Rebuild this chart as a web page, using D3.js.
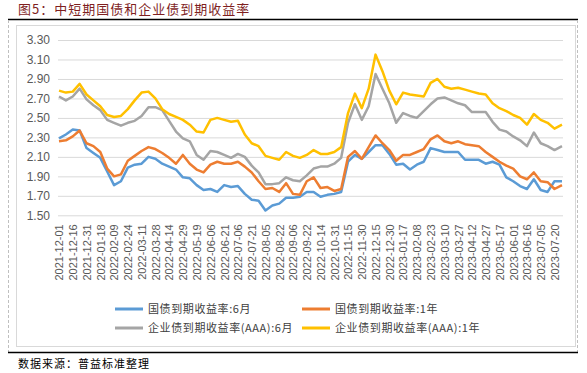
<!DOCTYPE html>
<html>
<head>
<meta charset="utf-8">
<script src="https://cdn.jsdelivr.net/npm/d3@7"></script>
<style>
  body { margin: 0; background: #fff; }
  text { font-family: "Liberation Sans", Arial, sans-serif; }
  .cjk { font-family: "Noto Sans CJK SC", sans-serif; }
</style>
</head>
<body>
<div id="chart-area"></div>
<script>
// tick labels on the category axis (one every 11 trading days)
var dateLabels = ["2021-12-01","2021-12-16","2021-12-31","2022-01-18","2022-02-09","2022-02-24",
    "2022-03-11","2022-03-28","2022-04-14","2022-04-29","2022-05-19","2022-06-06","2022-06-21",
    "2022-07-06","2022-07-21","2022-08-05","2022-08-22","2022-09-06","2022-09-22","2022-10-14",
    "2022-10-31","2022-11-15","2022-11-30","2022-12-15","2022-12-30","2023-01-17","2023-02-08",
    "2023-02-23","2023-03-10","2023-03-27","2023-04-12","2023-04-27","2023-05-17","2023-06-01",
    "2023-06-16","2023-07-05","2023-07-20"];
var labelStep = 11;     // trading days between labels
var lastDay = 402;      // last trading day index in the data
var yTicks = [1.5, 1.7, 1.9, 2.1, 2.3, 2.5, 2.7, 2.9, 3.1, 3.3];

// sampled every half label interval, last value is the final day
var gov6m = [2.29,2.33,2.38,2.37,2.19,2.14,2.09,1.95,1.81,1.85,1.99,2.02,2.03,2.10,2.08,2.03,2.00,1.97,
    1.89,1.88,1.81,1.76,1.77,1.74,1.81,1.79,1.80,1.72,1.66,1.65,1.55,1.60,1.62,1.68,1.68,1.69,
    1.74,1.74,1.69,1.71,1.72,1.74,2.05,2.12,2.08,2.15,2.22,2.22,2.13,2.02,2.03,1.97,2.02,2.05,
    2.19,2.17,2.15,2.15,2.15,2.07,2.07,2.07,2.03,2.05,2.02,1.89,1.85,1.80,1.77,1.87,1.76,1.74,1.85,1.85];
var gov1y = [2.26,2.27,2.31,2.37,2.24,2.21,2.15,1.98,1.90,1.92,2.06,2.11,2.16,2.20,2.18,2.14,2.09,2.03,
    2.12,2.03,1.97,1.94,2.02,2.05,2.03,2.03,2.05,2.00,1.94,1.85,1.77,1.78,1.74,1.83,1.72,1.71,
    1.85,1.89,1.78,1.79,1.75,1.77,2.10,2.16,2.08,2.20,2.32,2.24,2.17,2.06,2.12,2.12,2.15,2.18,
    2.28,2.32,2.26,2.24,2.26,2.23,2.22,2.21,2.15,2.10,2.05,2.01,1.98,1.90,1.87,1.94,1.85,1.84,1.77,1.81];
var corp6m = [2.72,2.68,2.72,2.80,2.69,2.63,2.58,2.48,2.45,2.42,2.45,2.47,2.52,2.61,2.61,2.58,2.47,2.36,
    2.29,2.26,2.12,2.07,2.16,2.15,2.12,2.09,2.13,2.10,2.01,1.94,1.82,1.82,1.83,1.89,1.86,1.85,
    1.91,1.98,2.00,2.00,2.03,2.09,2.45,2.64,2.48,2.62,2.95,2.80,2.65,2.45,2.55,2.52,2.50,2.57,
    2.64,2.70,2.71,2.68,2.65,2.63,2.56,2.56,2.56,2.46,2.38,2.36,2.31,2.27,2.21,2.35,2.24,2.21,2.17,2.21];
var corp1y = [2.78,2.76,2.77,2.85,2.74,2.68,2.62,2.53,2.51,2.52,2.59,2.68,2.76,2.77,2.70,2.59,2.54,2.51,
    2.48,2.43,2.36,2.35,2.48,2.50,2.48,2.46,2.47,2.33,2.24,2.21,2.11,2.09,2.07,2.15,2.11,2.09,
    2.12,2.17,2.13,2.13,2.15,2.20,2.55,2.75,2.60,2.80,3.15,2.98,2.78,2.64,2.76,2.74,2.73,2.72,
    2.86,2.90,2.82,2.80,2.81,2.79,2.77,2.75,2.74,2.65,2.60,2.57,2.53,2.50,2.43,2.54,2.48,2.45,2.39,2.43];

var seriesNames = ["国债到期收益率:6月", "国债到期收益率:1年", "企业债到期收益率(AAA):6月", "企业债到期收益率(AAA):1年"];
var seriesColors = ["#5b9bd5", "#ed7d31", "#a5a5a5", "#ffc000"];
var seriesValues = [gov6m, gov1y, corp6m, corp1y];

var width = 587, height = 373;
var svg = d3.select("#chart-area").append("svg")
    .attr("width", width)
    .attr("height", height);

// frame
svg.append("text").attr("class", "cjk")
    .attr("x", 18).attr("y", 14)
    .attr("font-size", "13px").attr("letter-spacing", "1px")
    .attr("fill", "#7f1f1f")
    .text("图5：中短期国债和企业债到期收益率");
svg.append("line").attr("x1", 8).attr("x2", 578).attr("y1", 19.5).attr("y2", 19.5)
    .attr("stroke", "#000").attr("stroke-width", 1.5);
[8.5, 577.5].forEach((x)=>{
    svg.append("line").attr("x1", x).attr("x2", x).attr("y1", 20).attr("y2", 352)
        .attr("stroke", "#bfbfbf").attr("stroke-dasharray", "3,2");
});
svg.append("rect").attr("x", 16.5).attr("y", 25.5).attr("width", 559).attr("height", 321)
    .attr("fill", "none").attr("stroke", "#d9d9d9");
svg.append("line").attr("x1", 8).attr("x2", 578).attr("y1", 352.5).attr("y2", 352.5)
    .attr("stroke", "#000").attr("stroke-width", 1.5);
svg.append("text").attr("class", "cjk")
    .attr("x", 18).attr("y", 368)
    .attr("font-size", "11px").attr("letter-spacing", "1px")
    .attr("fill", "#000")
    .text("数据来源：普益标准整理");

// scales
var x = d3.scaleLinear().domain([0, lastDay]).range([59, 562]);
var y = d3.scaleLinear().domain([1.5, 3.3]).range([215.3, 40]);
var plotLeft = 58, plotRight = 563;

// gridlines + y labels
var yAxis = d3.axisLeft(y).tickValues(yTicks).tickFormat(d3.format(".2f"))
    .tickSize(-(plotRight - plotLeft)).tickPadding(8);
var gy = svg.append("g").attr("transform", "translate(" + plotLeft + ",0)").call(yAxis);
gy.select(".domain").remove();
gy.selectAll("line").attr("stroke", "#d9d9d9");
gy.selectAll("text").attr("font-size", "12px").attr("fill", "#595959")
    .attr("font-family", "Liberation Sans, Arial, sans-serif");

// x labels
var xTicks = dateLabels.map((d, i)=>{ return i * labelStep; });
var xAxis = d3.axisBottom(x).tickValues(xTicks)
    .tickFormat((d)=>{ return dateLabels[d / labelStep]; }).tickSize(0);
var gx = svg.append("g").attr("transform", "translate(0,215.3)").call(xAxis);
gx.select(".domain").remove();
gx.selectAll("text")
    .attr("font-size", "11px").attr("fill", "#595959")
    .attr("font-family", "Liberation Sans, Arial, sans-serif")
    .attr("text-anchor", "end")
    .attr("transform", "rotate(-90)")
    .attr("x", -9).attr("y", 0).attr("dy", "0.35em");

// lines
var line = d3.line()
    .x((d, i, arr)=>{ return x(i === arr.length - 1 ? lastDay : i * labelStep / 2); })
    .y((d)=>{ return y(d); });
seriesValues.forEach((vals, s)=>{
    svg.append("path")
        .attr("d", line(vals))
        .attr("fill", "none")
        .attr("stroke", seriesColors[s])
        .attr("stroke-width", 2.5)
        .attr("stroke-linejoin", "round");
});

// legend
var legendPos = [[115, 309], [302, 309], [115, 328], [302, 328]];
seriesNames.forEach((name, s)=>{
    var lg = svg.append("g").attr("transform", "translate(" + legendPos[s][0] + "," + legendPos[s][1] + ")");
    lg.append("line").attr("x1", 0).attr("x2", 28).attr("y1", 0).attr("y2", 0)
        .attr("stroke", seriesColors[s]).attr("stroke-width", 3);
    lg.append("text").attr("class", "cjk")
        .attr("x", 33).attr("y", 0).attr("dy", "0.35em")
        .attr("font-size", "11px").attr("letter-spacing", "0.6px")
        .attr("fill", "#404040")
        .text(name);
});
</script>
</body>
</html>
